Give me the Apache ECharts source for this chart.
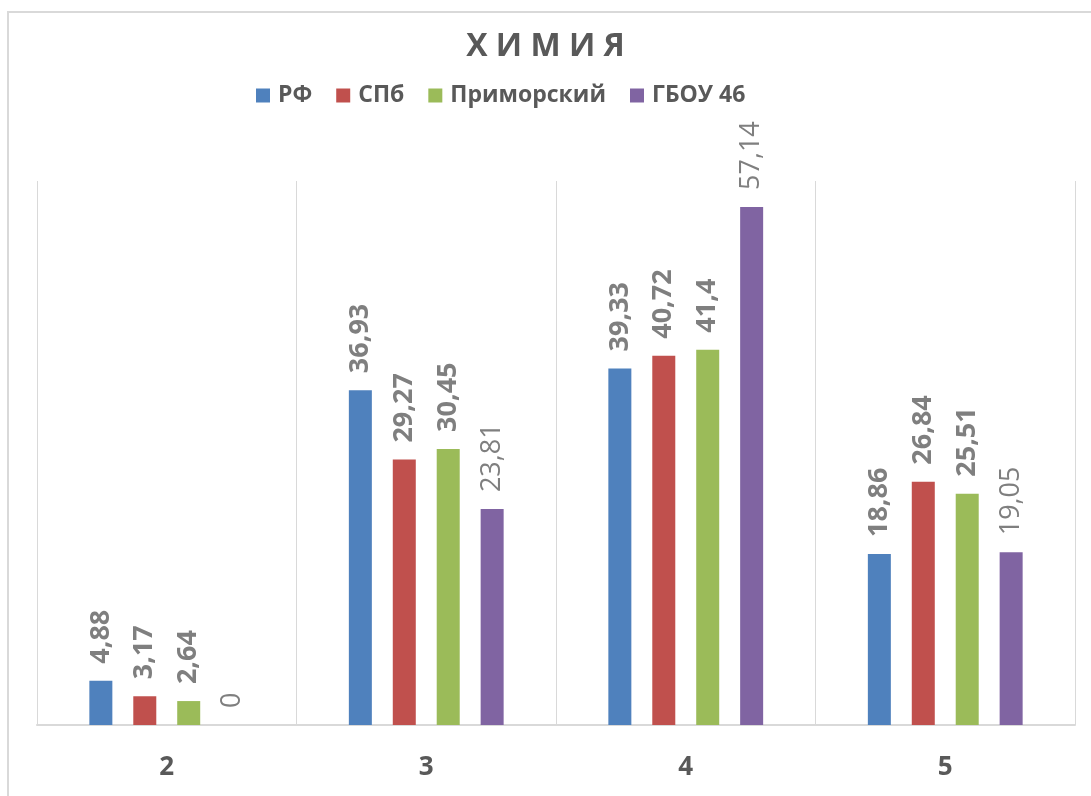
<!DOCTYPE html>
<html>
<head>
<meta charset="utf-8">
<script src="https://cdn.jsdelivr.net/npm/echarts@6/dist/echarts.min.js"></script>
<style>
html,body{margin:0;padding:0;background:#fff;}
#chart{width:1091px;height:796px;}
</style>
</head>
<body>
<div id="chart"></div>
<script>
var categories = ['2', '3', '4', '5'];
var seriesNames = ['РФ', 'СПб', 'Приморский', 'ГБОУ 46'];
var rf = [4.88, 36.93, 39.33, 18.86];
var spb = [3.17, 29.27, 40.72, 26.84];
var prim = [2.64, 30.45, 41.4, 25.51];
var gbou = [0, 23.81, 57.14, 19.05];
var colors = ['#4f81bd', '#c0504d', '#9bbb59', '#8064a2'];

var font = '"Open Sans", "Liberation Sans", sans-serif';

function fmt(v) {
    return String(v).replace('.', ',');
}

function makeSeries(name, data, color, bold) {
    return {
        name: name,
        type: 'bar',
        data: data,
        barWidth: 23,
        barGap: '91%',
        itemStyle: {color: color},
        label: {
            show: true,
            position: 'top',
            rotate: 90,
            align: 'left',
            verticalAlign: 'middle',
            distance: 17,
            color: '#7f7f7f',
            fontSize: 27,
            fontWeight: bold ? 'bold' : 'normal',
            fontFamily: font,
            formatter: function (p) { return fmt(p.value); }
        }
    };
}

var myChart = echarts.init(document.getElementById('chart'));
var option = {
    backgroundColor: '#fff',
    animation: false,
    title: {
        text: 'Х И М И Я',
        left: 'center',
        top: 26,
        textStyle: {
            color: '#595959',
            fontSize: 32,
            fontWeight: 'bold',
            fontFamily: font
        }
    },
    legend: {
        data: seriesNames,
        top: 79,
        left: 251,
        icon: 'rect',
        itemWidth: 14,
        itemHeight: 14,
        itemGap: 24,
        textStyle: {
            color: '#595959',
            fontSize: 23,
            fontWeight: 'bold',
            fontFamily: font,
            padding: [0, 0, 0, 3]
        }
    },
    graphic: [{
        type: 'rect',
        shape: {x: 8, y: 12, width: 1200, height: 900},
        style: {fill: 'none', stroke: '#d9d9d9', lineWidth: 2},
        silent: true
    }],
    grid: {
        left: 37,
        right: 16,
        top: 181,
        bottom: 71
    },
    xAxis: {
        type: 'category',
        data: categories,
        axisLine: {show: true, lineStyle: {color: '#d9d9d9', width: 2}},
        axisTick: {show: false},
        splitLine: {show: true, lineStyle: {color: '#d9d9d9', width: 1}},
        axisLabel: {
            color: '#595959',
            fontSize: 26,
            fontWeight: 'bold',
            fontFamily: font,
            margin: 30
        }
    },
    yAxis: {
        type: 'value',
        min: 0,
        max: 60,
        show: false
    },
    series: [
        makeSeries(seriesNames[0], rf, colors[0], true),
        makeSeries(seriesNames[1], spb, colors[1], true),
        makeSeries(seriesNames[2], prim, colors[2], true),
        makeSeries(seriesNames[3], gbou, colors[3], false)
    ]
};
myChart.setOption(option);
</script>
</body>
</html>
